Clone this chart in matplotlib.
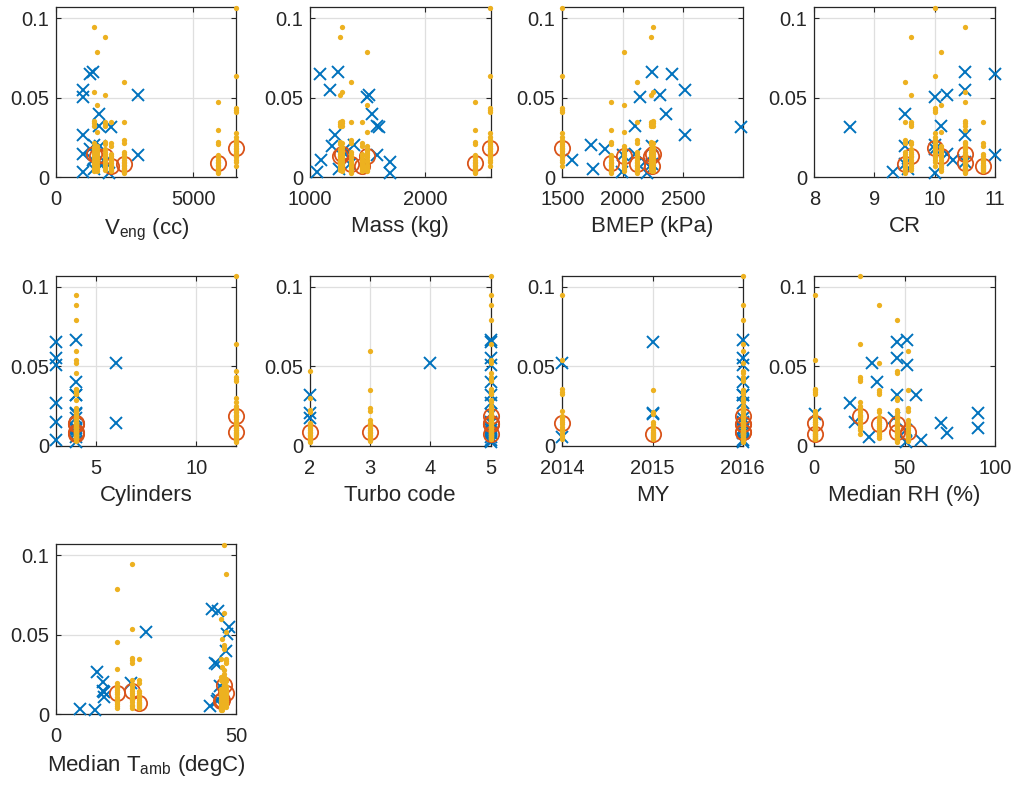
import matplotlib
matplotlib.use("Agg")
import matplotlib.pyplot as plt

plt.rcParams.update({
    "font.family": "Liberation Sans",
    "mathtext.fontset": "custom",
    "mathtext.rm": "Liberation Sans",
    "mathtext.it": "Liberation Sans:italic",
})

# test vehicles: one entry per vehicle
veh_veng = [6575, 5910, 1396, 1784, 1990, 1480, 2487]
veh_mass = [2561, 2427, 1278, 1257, 1447, 1497, 1357]
veh_bmep = [1500, 1906, 2253, 2236, 2240, 2014, 2119]
veh_cr = [10.0, 10.5, 10.5, 9.6, 10.8, 10.1, 9.5]
veh_cyl = [12, 12, 4, 4, 4, 4, 4]
veh_turbo = [5, 2, 5, 5, 5, 5, 3]
veh_my = [2016, 2016, 2014, 2016, 2015, 2016, 2016]
veh_rh = [25.3, 46.0, 0.4, 35.8, 0.4, 45.7, 51.8]
veh_tamb = [46.4, 45.9, 21.0, 47.0, 23.1, 16.8, 45.6]
veh_median = [0.0186, 0.0088, 0.0146, 0.0137, 0.0072, 0.0135, 0.0085]

# individual test results for each vehicle
veh_tests = [
    [0.1065, 0.0637, 0.0435, 0.0421, 0.0408, 0.0277, 0.0252, 0.0235, 0.0222, 0.0210,
     0.0196, 0.0186, 0.0178, 0.0166, 0.0152, 0.0140, 0.0125, 0.0110, 0.0098, 0.0074],
    [0.0473, 0.0298, 0.0225, 0.0210, 0.0140, 0.0126, 0.0112, 0.0098, 0.0088, 0.0080,
     0.0070, 0.0060, 0.0050, 0.0040, 0.0032, 0.0025],
    [0.0947, 0.0537, 0.0354, 0.0340, 0.0325, 0.0217, 0.0190, 0.0175, 0.0160, 0.0147,
     0.0135, 0.0120, 0.0105, 0.0090, 0.0075, 0.0060, 0.0050, 0.0042],
    [0.0885, 0.0518, 0.0350, 0.0335, 0.0325, 0.0224, 0.0210, 0.0180, 0.0160, 0.0148,
     0.0137, 0.0125, 0.0110, 0.0098, 0.0085, 0.0072, 0.0060, 0.0046],
    [0.0350, 0.0214, 0.0199, 0.0147, 0.0134, 0.0118, 0.0100, 0.0088, 0.0078, 0.0072,
     0.0065, 0.0058, 0.0052, 0.0046, 0.0040],
    [0.0790, 0.0455, 0.0286, 0.0196, 0.0180, 0.0165, 0.0150, 0.0138, 0.0125, 0.0110,
     0.0095, 0.0080, 0.0065, 0.0052, 0.0042],
    [0.0599, 0.0351, 0.0235, 0.0218, 0.0162, 0.0145, 0.0128, 0.0112, 0.0098, 0.0088,
     0.0078, 0.0070, 0.0060, 0.0050, 0.0040, 0.0030],
]

# reference fleet
ref_y = [0.0665, 0.0651, 0.0552, 0.0518, 0.0508, 0.0398, 0.0320, 0.0319, 0.0267, 0.0204,
         0.0197, 0.0175, 0.0147, 0.0141, 0.0109, 0.0099, 0.0082, 0.0052, 0.0036, 0.0025]
ref_veng = [1360, 1238, 971, 2973, 971, 1578, 1553, 2002, 971, 1400,
            1600, 1250, 971, 2973, 1360, 1780, 1600, 1400, 995, 1950]
ref_mass = [1240, 1090, 1175, 1515, 1497, 1541, 1579, 1599, 1219, 1380,
            1190, 1300, 1307, 1585, 1096, 1696, 1350, 1250, 1058, 1696]
ref_bmep = [2245, 2410, 2514, 2308, 2142, 2356, 2100, 2980, 2514, 1739,
            2244, 1850, 2106, 2000, 1578, 2189, 2244, 1753, 1994, 2200]
ref_cr = [10.5, 11.0, 10.5, 10.2, 10.0, 9.5, 10.1, 8.6, 10.5, 10.0,
          9.5, 10.0, 10.2, 11.0, 10.3, 10.5, 9.5, 9.55, 9.3, 10.0]
ref_cyl = [4, 3, 3, 6, 3, 4, 4, 4, 3, 4, 4, 4, 3, 6, 4, 4, 4, 4, 3, 4]
ref_turbo = [5, 5, 5, 4, 5, 5, 5, 2, 5, 2, 5, 2, 5, 5, 5, 5, 5, 5, 5, 5]
ref_my = [2016, 2015, 2016, 2014, 2016, 2016, 2016, 2016, 2016, 2015,
          2015, 2016, 2016, 2016, 2016, 2016, 2016, 2014, 2016, 2016]
ref_rh = [51.2, 45.6, 45.6, 32.0, 51.2, 34.8, 45.6, 56.2, 19.9, 90.7,
          0.4, 44.0, 22.7, 70.2, 90.7, 51.0, 73.4, 30.2, 59.0, 50.7]
ref_tamb = [43.3, 44.9, 47.8, 24.9, 47.5, 47.2, 44.0, 44.5, 11.3, 13.1,
            20.9, 45.3, 13.1, 13.3, 13.3, 44.9, 44.5, 42.6, 6.6, 10.8]

panels = [
    ("V$_{\\rm eng}$ (cc)", veh_veng, ref_veng, (0, 6580), [0, 5000]),
    ("Mass (kg)", veh_mass, ref_mass, (1000, 2565), [1000, 2000]),
    ("BMEP (kPa)", veh_bmep, ref_bmep, (1500, 2995), [1500, 2000, 2500]),
    ("CR", veh_cr, ref_cr, (8, 11), [8, 9, 10, 11]),
    ("Cylinders", veh_cyl, ref_cyl, (3, 12), [5, 10]),
    ("Turbo code", veh_turbo, ref_turbo, (2, 5), [2, 3, 4, 5]),
    ("MY", veh_my, ref_my, (2014, 2016), [2014, 2015, 2016]),
    ("Median RH (%)", veh_rh, ref_rh, (0, 100), [0, 50, 100]),
    ("Median T$_{\\rm amb}$ (degC)", veh_tamb, ref_tamb, (0, 50), [0, 50]),
]

BLUE = "#0072BD"
RED = "#D95319"
YELLOW = "#EDB120"
INK = "#262626"

W, H = 1016, 787
col_left = [56, 310, 562.3, 814.3]
row_bottom = [177.3, 445.7, 714.3]
ax_w, ax_h = 180.5, 170

fig = plt.figure(figsize=(W / 100, H / 100), dpi=100)

for i, (label, vx, rx, xlim, xticks) in enumerate(panels):
    r, c = divmod(i, 4)
    ax = fig.add_axes([col_left[c] / W, 1 - row_bottom[r] / H, ax_w / W, ax_h / H])

    ax.plot(rx, ref_y, "x", color=BLUE, ms=8, mew=1.4, clip_on=False, zorder=3)
    ax.plot(vx, veh_median, "o", mfc="none", mec=RED, ms=11, mew=1.3,
            clip_on=False, zorder=4)
    for x, tests in zip(vx, veh_tests):
        ax.plot([x] * len(tests), tests, "o", color=YELLOW, mec="none", ms=3.8,
                clip_on=False, zorder=5)

    ax.set_xlim(*xlim)
    ax.set_ylim(0, 0.107)
    ax.set_xticks(xticks)
    ax.set_xticklabels([str(t) for t in xticks])
    ax.set_yticks([0, 0.05, 0.1])
    ax.set_yticklabels(["0", "0.05", "0.1"])
    ax.grid(True, color="#dfdfdf", lw=0.9)
    ax.set_axisbelow(True)
    for s in ax.spines.values():
        s.set_color(INK)
        s.set_linewidth(0.9)
    ax.tick_params(direction="in", top=True, right=True, length=3.5, width=0.8,
                   colors=INK, labelsize=14.5)
    ax.tick_params(axis="x", pad=9.5)
    ax.tick_params(axis="y", pad=5)
    ax.set_xlabel(label, fontsize=16, color=INK, labelpad=5)

fig.savefig("out.png", dpi=100)
